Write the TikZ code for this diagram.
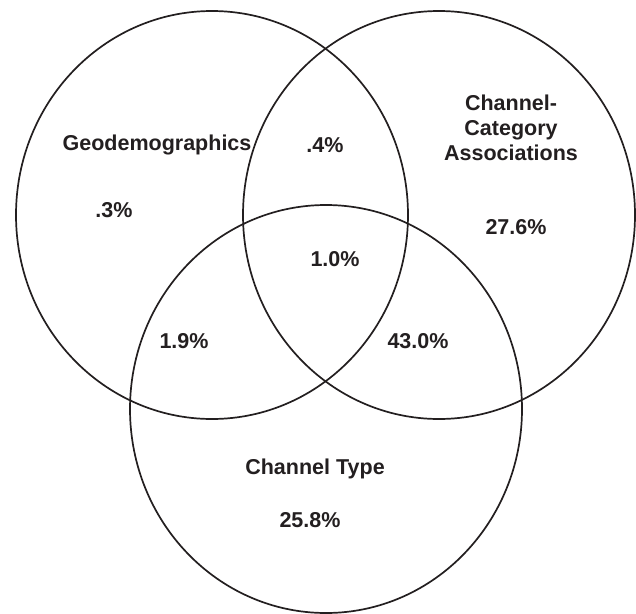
\documentclass[tikz,border=0pt]{standalone}
\usepackage{fontspec}
\setmainfont{Liberation Sans}
\usetikzlibrary{shapes.geometric}
\definecolor{ink}{HTML}{231F20}
\tikzset{
  venn/.style={draw=ink, line width=1.7pt, ellipse, minimum width=392pt, minimum height=408pt, inner sep=0pt},
  lbl/.style={text=ink, font=\fontsize{21.5}{25}\selectfont\bfseries, align=center, inner sep=0pt}
}
\begin{document}
\begin{tikzpicture}[x=1pt,y=-1pt]
\useasboundingbox (0,0) rectangle (636,613);
\node[venn] (geo) at (212,215) {};
\node[venn] (cca) at (439,215) {};
\node[venn] (ct) at (326,409) {};
\node[lbl] (geoname) at (157,145) {Geodemographics};
\node[lbl] (ccaname) at (511,128) {Channel-\\Category\\Associations};
\node[lbl] (ctname) at (315,469) {Channel Type};
\node[lbl] (p1) at (114,210) {.3\%};
\node[lbl] (p2) at (325,145) {.4\%};
\node[lbl] (p3) at (516,227) {27.6\%};
\node[lbl] (p4) at (335,259) {1.0\%};
\node[lbl] (p5) at (184,341) {1.9\%};
\node[lbl] (p6) at (418,341) {43.0\%};
\node[lbl] (p7) at (310,520) {25.8\%};
\end{tikzpicture}
\end{document}
